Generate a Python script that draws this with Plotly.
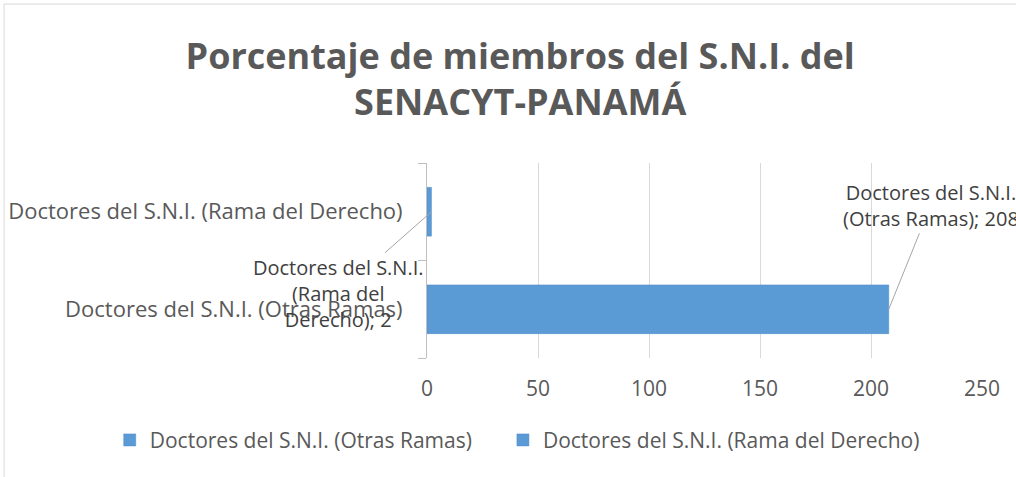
import plotly.graph_objects as go

# datos del grafico
categorias = ["Doctores del S.N.I. (Otras Ramas)", "Doctores del S.N.I. (Rama del Derecho)"]
series = ["Doctores del S.N.I. (Otras Ramas)", "Doctores del S.N.I. (Rama del Derecho)"]
valores = [208, 2]
etiquetas = ["Doctores del S.N.I.<br>(Otras Ramas); 208", "Doctores del S.N.I.<br>(Rama del<br>Derecho); 2"]
ticks_x = [0, 50, 100, 150, 200, 250]

fuente = "'Open Sans', sans-serif"
gris = "#595959"

fig = go.Figure()

# una leyenda por serie para que queden en la misma fila
leyendas = ['legend', 'legend2']
for nombre, cat, v, ley in zip(series, categorias, valores, leyendas):
    fig.add_trace(go.Bar(
        x=[v],
        y=[cat],
        name=nombre,
        orientation='h',
        width=0.5,
        legend=ley,
        marker=dict(color='#5b9bd5', line=dict(color='#4a89c8', width=0.5))
    ))

# etiquetas de datos con lineas guia
desplaz = [(42, -104), (-93, 82)]
for cat, v, txt, (ax, ay) in zip(categorias, valores, etiquetas, desplaz):
    fig.add_annotation(
        x=v, y=cat, text=txt, showarrow=True, arrowhead=0,
        arrowwidth=1, arrowcolor='#a6a6a6', ax=ax, ay=ay, standoff=0,
        font=dict(family=fuente, size=20, color='#404040'), align='center'
    )

# marco del grafico
fig.add_shape(type='rect', xref='paper', yref='paper',
              x0=-0.762, x1=1.2, y0=-1.0, y1=1.815,
              line=dict(color='#d9d9d9', width=1))

estilo_leyenda = dict(
    orientation='h', xref='container', xanchor='left',
    yref='container', y=0.077, yanchor='middle',
    font=dict(family=fuente, size=21, color=gris), itemwidth=30,
    bgcolor='rgba(0,0,0,0)'
)

fig.update_layout(
    width=1016, height=477,
    margin=dict(l=427, r=34, t=163, b=119, autoexpand=False),
    paper_bgcolor='white', plot_bgcolor='white',
    barmode='overlay',
    showlegend=True,
    title=dict(
        text="Porcentaje de miembros del S.N.I. del<br>SENACYT-PANAMÁ",
        x=0.512, xanchor='center', y=0.856, yanchor='top',
        font=dict(family=fuente, size=36, color=gris, weight='bold')
    ),
    xaxis=dict(
        range=[0, 250], tickvals=ticks_x, showgrid=True, gridcolor='#d9d9d9',
        zeroline=False, showline=False, ticks='outside', ticklen=12,
        tickcolor='rgba(0,0,0,0)',
        tickfont=dict(family=fuente, size=21, color=gris)
    ),
    yaxis=dict(
        type='category', categoryorder='array', categoryarray=categorias,
        showline=True, linecolor='#bfbfbf', ticks='outside', ticklen=8,
        tickcolor='#bfbfbf', tickson='boundaries', showgrid=False,
        ticklabelstandoff=19,
        tickfont=dict(family=fuente, size=22, color=gris)
    ),
    legend=dict(estilo_leyenda, x=0.108),
    legend2=dict(estilo_leyenda, x=0.495),
)

fig.write_html("out.html", config={'displayModeBar': False},
               post_script="document.body.style.margin='0';")
